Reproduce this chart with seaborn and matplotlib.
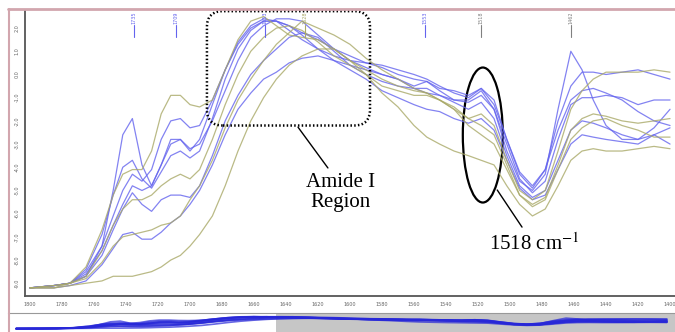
import numpy as np
import pandas as pd
import matplotlib
matplotlib.use("Agg")
import matplotlib.pyplot as plt
import seaborn as sns
from matplotlib.patches import Ellipse, FancyBboxPatch
from matplotlib.lines import Line2D
from matplotlib.transforms import IdentityTransform

# wavenumber grid (cm-1)
wavenumber = [1800, 1785, 1775, 1765, 1755, 1748, 1742, 1736, 1730, 1724, 1718, 1712,
              1706, 1700, 1694, 1686, 1678, 1670, 1662, 1654, 1646, 1638, 1630, 1620,
              1610, 1600, 1590, 1580, 1570, 1560, 1552, 1544, 1535, 1526, 1518, 1510,
              1502, 1494, 1486, 1478, 1470, 1462, 1455, 1448, 1440, 1430, 1420, 1410, 1400]

# blue spectra
b1 = [-9.2, -9.1, -9.0, -8.7, -7.4, -5.0, -2.6, -1.9, -3.9, -4.8, -3.9, -2.8, -2.8, -3.3, -2.8, -1.3, 0.2,
      1.4, 2.1, 2.4, 2.3, 2.1, 1.7, 1.1, 0.6, 0.4, 0.2, 0.0, -0.2, -0.5, -0.3, -0.7, -1.1, -1.1, -0.7,
      -1.5, -3.3, -4.6, -5.0, -4.3, -1.5, 1.0, 0.2, -1.1, -2.2, -2.8, -2.8, -2.6, -3.0]
b2 = [-9.2, -9.1, -9.0, -8.5, -7.4, -6.1, -5.0, -4.3, -4.6, -4.1, -2.8, -2.0, -1.9, -2.3, -2.2, -1.1, 0.2,
      1.3, 2.0, 2.3, 2.3, 1.9, 1.5, 1.1, 0.8, 0.6, 0.5, 0.4, 0.2, 0.0, -0.2, -0.5, -0.8, -1.0, -0.6,
      -1.3, -2.8, -4.3, -4.9, -4.1, -2.0, -0.5, 0.1, 0.1, 0.0, 0.1, 0.2, 0.0, -0.2]
b3 = [-9.2, -9.1, -9.0, -8.6, -7.6, -6.5, -5.6, -4.8, -5.0, -4.8, -3.9, -3.0, -2.8, -3.2, -3.0, -2.0, -0.7,
      0.6, 1.6, 2.1, 2.4, 2.4, 2.3, 1.7, 1.1, 0.6, 0.3, 0.0, -0.2, -0.6, -0.8, -0.9, -1.1, -1.2, -0.9,
      -1.5, -3.0, -4.5, -5.1, -4.6, -2.8, -1.3, -1.0, -1.0, -0.9, -1.0, -1.3, -1.1, -1.1]
b4 = [-9.2, -9.1, -9.0, -8.7, -7.8, -6.7, -5.8, -5.1, -5.6, -5.9, -5.4, -5.2, -5.2, -5.3, -4.8, -3.5, -2.0,
      -0.9, 0.0, 0.6, 1.1, 1.6, 1.8, 1.6, 1.0, 0.4, 0.0, -0.3, -0.5, -0.6, -0.6, -0.9, -1.2, -1.5, -1.2,
      -1.9, -3.5, -4.8, -5.3, -5.0, -3.7, -2.4, -2.0, -2.1, -2.3, -2.6, -2.8, -2.3, -1.5]
b5 = [-9.2, -9.2, -9.1, -8.9, -8.2, -7.5, -6.9, -6.8, -7.1, -7.1, -6.8, -6.4, -6.1, -5.6, -5.0, -3.9, -2.6,
      -1.5, -0.8, -0.2, 0.1, 0.5, 0.7, 0.8, 0.6, 0.2, -0.2, -0.7, -1.0, -1.3, -1.5, -1.6, -1.9, -2.1, -1.9,
      -2.4, -3.7, -4.9, -5.4, -5.2, -4.1, -3.0, -2.6, -2.7, -2.8, -2.9, -3.0, -2.6, -2.3]
b6 = [-9.2, -9.1, -9.0, -8.4, -6.9, -5.2, -4.0, -3.7, -4.5, -4.9, -4.2, -3.5, -3.3, -3.6, -3.3, -1.9, -0.2,
      1.1, 1.9, 2.3, 2.3, 2.1, 1.8, 1.5, 1.1, 0.8, 0.5, 0.3, 0.0, -0.2, -0.3, -0.6, -0.7, -0.9, -0.6,
      -1.1, -2.8, -4.2, -4.8, -4.1, -2.4, -1.1, -0.7, -0.6, -0.8, -1.1, -1.6, -2.0, -2.2]
# olive spectra
o1 = [-9.2, -9.1, -9.0, -8.3, -6.7, -5.2, -4.3, -4.1, -4.1, -3.3, -1.7, -0.9, -0.9, -1.3, -1.4, -1.1, 0.2,
      1.5, 2.3, 2.5, 2.1, 1.7, 1.6, 1.5, 1.1, 0.6, 0.2, -0.2, -0.5, -0.7, -0.8, -1.1, -1.5, -1.9, -1.7,
      -2.2, -3.7, -5.0, -5.4, -5.0, -3.3, -1.5, -0.7, -0.2, 0.1, 0.1, 0.1, 0.2, 0.1]
o2 = [-9.2, -9.2, -9.0, -8.8, -8.1, -7.4, -7.0, -6.9, -6.8, -6.7, -6.5, -6.4, -6.1, -5.4, -4.8, -3.7, -2.3,
      -1.1, -0.2, 0.6, 1.3, 1.8, 2.3, 2.0, 1.7, 1.3, 0.7, 0.2, -0.2, -0.6, -0.8, -1.1, -1.4, -1.9, -2.2,
      -2.6, -3.9, -5.2, -5.7, -5.4, -4.1, -2.8, -2.3, -2.0, -1.9, -2.2, -2.4, -2.7, -2.7]
o3 = [-9.2, -9.2, -9.1, -9.0, -8.9, -8.7, -8.7, -8.7, -8.6, -8.5, -8.3, -8.0, -7.8, -7.4, -6.9, -6.1, -4.8,
      -3.3, -2.0, -1.0, -0.2, 0.4, 0.8, 1.1, 1.1, 0.6, 0.0, -0.8, -1.4, -2.2, -2.7, -3.0, -3.3, -3.5, -3.7,
      -3.9, -4.8, -5.6, -6.1, -5.8, -4.8, -3.7, -3.3, -3.2, -3.3, -3.3, -3.2, -3.1, -3.2]
o4 = [-9.2, -9.1, -9.0, -8.7, -7.6, -6.5, -5.8, -5.4, -5.4, -5.2, -4.8, -4.5, -4.3, -4.5, -4.1, -2.8, -1.3,
      0.0, 1.0, 1.6, 2.0, 2.1, 1.9, 1.4, 0.8, 0.4, 0.0, -0.5, -0.7, -0.9, -0.9, -1.1, -1.5, -2.2, -2.6,
      -3.0, -4.1, -5.2, -5.6, -5.3, -3.9, -2.4, -1.9, -1.7, -1.8, -2.0, -2.1, -2.0, -1.9]

spectra = {"b1": b1, "b2": b2, "b3": b3, "b4": b4, "b5": b5, "b6": b6,
           "o1": o1, "o2": o2, "o3": o3, "o4": o4}

peak_marks = [1735, 1709, 1653, 1628, 1553, 1518, 1462]
peak_kind = ["blue", "blue", "blue", "olive", "blue", "gray", "gray"]

x_ticks = list(range(1800, 1399, -20))
y_ticks = [2.0, 1.0, 0.0, -1.0, -2.0, -3.0, -4.0, -5.0, -6.0, -7.0, -8.0, -9.0]

# colours
BLUE = "#6464ee"
OLIVE = "#a9a968"
GRAY = "#808080"
kind_color = {"blue": BLUE, "olive": OLIVE, "gray": GRAY}

rows = []
for name, vals in spectra.items():
    for w, v in zip(wavenumber, vals):
        rows.append({"sample": name, "wavenumber": w, "absorbance": v})
df = pd.DataFrame(rows)
palette = {k: (BLUE if k.startswith("b") else OLIVE) for k in spectra}

sns.set_theme(style="white")
plt.rcParams["mathtext.fontset"] = "stix"

fig = plt.figure(figsize=(6.75, 3.32), dpi=100)

# main spectrum panel
ax = fig.add_axes([25 / 675, 1 - 296 / 332, 650 / 675, 286 / 332])
sns.lineplot(data=df, x="wavenumber", y="absorbance", hue="sample", palette=palette,
             legend=False, ax=ax, lw=0.9, alpha=0.8, errorbar=None)
ax.set_xlim(1803.1, 1396.9)
ax.set_ylim(-9.55, 2.78)
ax.set_xticks(x_ticks)
ax.set_xticklabels([str(t) for t in x_ticks])
ax.set_yticks(y_ticks)
ax.set_yticklabels([f"{t:.1f}" for t in y_ticks], rotation=90, va="center")
ax.tick_params(axis="both", labelsize=3.5, colors="#666666", length=2, width=0.6,
               direction="out", pad=2)
ax.set_xlabel("")
ax.set_ylabel("")
for s in ["top", "right"]:
    ax.spines[s].set_visible(False)
for s in ["left", "bottom"]:
    ax.spines[s].set_color("#555555")
    ax.spines[s].set_linewidth(1.3)

# peak markers along the top
for w, k in zip(peak_marks, peak_kind):
    c = kind_color[k]
    ax.text(w, 2.43, str(w), rotation=90, fontsize=3.5, color=c, ha="center", va="center")
    ax.plot([w, w], [2.13, 1.61], color=c, lw=0.8)

# Amide I region box
p0 = ax.transData.transform((1689.4, -2.2))
p1 = ax.transData.transform((1587.5, 2.73))
box = FancyBboxPatch((p0[0], p0[1]), p1[0] - p0[0], p1[1] - p0[1],
                     boxstyle="round,pad=0,rounding_size=16", transform=IdentityTransform(),
                     fill=False, ec="black", lw=1.8, ls=(0, (0.6, 0.9)), clip_on=False)
fig.add_artist(box)
ax.plot([1632.5, 1613.8], [-2.27, -4.03], color="black", lw=1.0)
ax.text(1606, -5.08, "Amide I\nRegion", family="Liberation Serif", fontsize=15,
        ha="center", va="center", linespacing=1.05, color="black")

# 1518 band ellipse
ax.add_patch(Ellipse((1517, -2.61), width=25, height=5.82, fill=False, ec="black", lw=1.6))
ax.plot([1508, 1492.5], [-4.98, -6.58], color="black", lw=1.0)
ax.text(1485, -7.31, "1518 cm$^{-1}$", family="Liberation Serif", fontsize=15,
        ha="center", va="center", color="black")

# overview strip at the bottom
ov = fig.add_axes([8 / 675, 0, 667 / 675, 19 / 332])
ov.axvspan(1640, 1395, color="#c6c6c6", lw=0)
sns.lineplot(data=df, x="wavenumber", y="absorbance", hue="sample",
             palette={k: "#2828d8" for k in spectra}, legend=False, ax=ov,
             lw=1.2, alpha=0.7, errorbar=None)
ov.set_xlim(1805, 1395)
ov.set_ylim(-12.5, 6)
ov.set_xticks([])
ov.set_yticks([])
ov.set_xlabel("")
ov.set_ylabel("")
for s in ["left", "right", "bottom"]:
    ov.spines[s].set_visible(False)
ov.spines["top"].set_color("#999999")
ov.spines["top"].set_linewidth(0.8)

# window border
fig.add_artist(Line2D([8 / 675, 1], [1 - 9 / 332, 1 - 9 / 332], transform=fig.transFigure,
                      color="#d2a6ae", lw=2))
fig.add_artist(Line2D([8.5 / 675, 8.5 / 675], [0, 1 - 9 / 332], transform=fig.transFigure,
                      color="#d2a6ae", lw=1.5))

fig.savefig("out.png", dpi=100)
